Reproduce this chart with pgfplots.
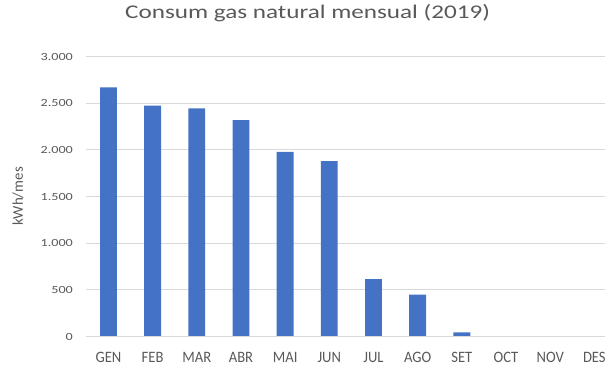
\documentclass[border=0pt]{standalone}
\usepackage{fontspec}
\setmainfont{Carlito}
\newfontfamily\titlefont{Carlito}[FakeStretch=1.3]
\newfontfamily\ytfont{Carlito}[FakeStretch=1.3]
\newfontfamily\xtfont{Carlito}[FakeStretch=0.92]
\usepackage{pgfplots}
\pgfplotsset{compat=1.18}
\definecolor{barblue}{HTML}{4472C4}
\definecolor{txtgray}{HTML}{595959}
\definecolor{gridgray}{HTML}{D9D9D9}
\begin{document}
\begin{tikzpicture}
\begin{axis}[
    name=main,
    x=44.5pt, y=0.094pt,
    scale only axis,
    ybar, bar width=17pt,
    xmin=-0.5, xmax=11.23,
    ymin=0, ymax=3000,
    ytick={0,500,...,3000},
    xtick=data,
    xticklabels={GEN,FEB,MAR,ABR,MAI,JUN,JUL,AGO,SET,OCT,NOV,DES},
    axis line style={draw=none},
    major tick length=0pt,
    ymajorgrids, grid style={gridgray, line width=0.8pt},
    /pgf/number format/.cd, 1000 sep={.}, assume math mode=true,
    /pgfplots/.cd,
    yticklabel style={font=\ytfont\fontsize{11}{13}\selectfont, text=txtgray, xshift=-10pt},
    xticklabel style={font=\xtfont\fontsize{16}{18}\selectfont, text=txtgray, anchor=base, yshift=-26pt},
    ylabel={kWh/mes},
    ylabel style={font=\fontsize{15}{17}\selectfont, text=txtgray,
        at={(axis description cs:-0.132,0.5)}, anchor=center},
    title={Consum gas natural mensual (2019)},
    title style={font=\titlefont\fontsize{19.5}{23}\selectfont, text=txtgray,
        at={(axis description cs:0.427,1)}, anchor=base, yshift=32pt},
]
\addplot[fill=barblue, draw=none] coordinates {
    (0,2670) (1,2475) (2,2445) (3,2320) (4,1980) (5,1880)
    (6,615) (7,450) (8,45) (9,0) (10,0) (11,0)
};
\draw[gridgray, line width=0.8pt] (axis cs:-0.5,0) -- (axis cs:11.23,0);
\end{axis}
\useasboundingbox ([xshift=-87pt,yshift=-30pt]main.south west) rectangle ([yshift=57pt]main.north east);
\end{tikzpicture}
\end{document}
